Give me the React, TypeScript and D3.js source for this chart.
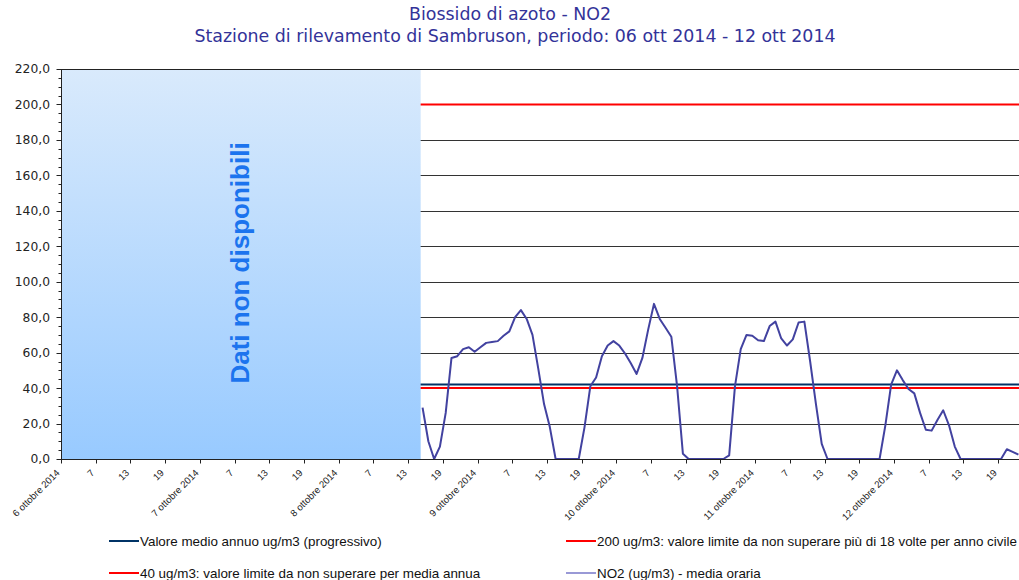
import React, { useEffect, useRef } from 'react';
import * as d3 from 'd3';

const titleLines = [
  'Biossido di azoto - NO2',
  'Stazione di rilevamento di Sambruson, periodo: 06 ott 2014 - 12 ott 2014',
];
const dayLabels = [
  '6 ottobre 2014',
  '7 ottobre 2014',
  '8 ottobre 2014',
  '9 ottobre 2014',
  '10 ottobre 2014',
  '11 ottobre 2014',
  '12 ottobre 2014',
];
const hourLabels = ['7', '13', '19'];
const hoursPerDay = 24;

// hourly NO2 (ug/m3), first value = 8 ott 15:00 (hour index 62)
const no2FirstHour = 62;
const no2Values = [
  29, 10, 0, 7, 26, 57, 58, 62, 63, 60.5, 63, 65.5, 66, 66.5, 69.5, 72, 80, 84, 79, 70, 51, 31, 18,
  0, 0, 0, 0, 0, 18, 41, 46, 58, 64, 66.5, 64, 59.5, 54, 48, 57, 73, 87.5, 79, 74, 69, 41, 3,
  0, 0, 0, 0, 0, 0, 0, 2, 41, 62, 70, 69.5, 67, 66.5, 75, 77.5, 68, 64, 67.5, 77, 77.5, 55, 31, 8.5,
  0, 0, 0, 0, 0, 0, 0, 0, 0, 0, 19, 42, 50, 44.5, 39.5, 37, 26, 16.5, 16, 22, 27.5, 19, 7,
  0, 0, 0, 0, 0, 0, 0, 0, 5.5, 4, 2.5,
];

const meanAnnual = 42;
const limitHourly = 200;
const limitAnnual = 40;
const yMax = 220;
const yMajor = d3.range(0, yMax + 1, 20);
const yMinor = d3.range(0, yMax + 1, 5);

const legendLabels = [
  'Valore medio annuo ug/m3 (progressivo)',
  '200 ug/m3: valore limite da non superare più di 18 volte per anno civile',
  '40 ug/m3: valore limite da non superare per media annua',
  'NO2 (ug/m3)  - media oraria',
];
const legendColors = ['#003366', '#ff0000', '#ff0000', '#9999d6'];

const noDataText = 'Dati non disponibili';

const itFormat = d3.formatLocale({ decimal: ',', thousands: '.', grouping: [3], currency: ['€', ''] }).format('.1f');

export default function App() {
  const ref = useRef<SVGSVGElement>(null);

  useEffect(() => {
    const width = 1019;
    const height = 580;
    const left = 61;
    const top = 69;
    const bottom = 459;
    const step = 5.785;
    const nHours = dayLabels.length * hoursPerDay;

    const svg = d3.select(ref.current);
    svg.selectAll('*').remove();
    svg.attr('width', width).attr('height', height);

    const x = d3.scaleLinear().domain([0, nHours]).range([left, left + nHours * step]);
    const y = d3.scaleLinear().domain([0, yMax]).range([bottom, top]);
    const crisp = (v: number) => Math.round(v) + 0.5;

    const defs = svg.append('defs');
    const grad = defs
      .append('linearGradient')
      .attr('id', 'nd')
      .attr('x1', 0)
      .attr('y1', 0)
      .attr('x2', 0)
      .attr('y2', 1);
    grad.append('stop').attr('offset', '0%').attr('stop-color', '#d9eafc');
    grad.append('stop').attr('offset', '100%').attr('stop-color', '#98caff');

    svg.append('rect').attr('width', width).attr('height', height).attr('fill', '#fff');

    // title
    svg
      .append('g')
      .selectAll('text')
      .data(titleLines)
      .enter()
      .append('text')
      .attr('x', (d, i) => (i === 0 ? 510 : 515))
      .attr('y', (d, i) => 20 + i * 22)
      .attr('text-anchor', 'middle')
      .style('font-family', 'DejaVu Sans, Verdana, sans-serif')
      .style('font-size', '17.4px')
      .style('fill', '#333399')
      .text((d) => d);

    // grid
    svg
      .append('g')
      .selectAll('line')
      .data(yMajor.filter((v) => v > 0))
      .enter()
      .append('line')
      .attr('x1', x(0))
      .attr('x2', x(nHours))
      .attr('y1', (d) => crisp(y(d)))
      .attr('y2', (d) => crisp(y(d)))
      .style('stroke', '#333')
      .style('stroke-width', 1);

    // reference lines
    const refs = [
      { v: limitHourly, c: '#ff0000' },
      { v: meanAnnual, c: '#003366' },
      { v: limitAnnual, c: '#ff0000' },
    ];
    svg
      .append('g')
      .selectAll('line')
      .data(refs)
      .enter()
      .append('line')
      .attr('x1', x(0))
      .attr('x2', x(nHours))
      .attr('y1', (d) => y(d.v))
      .attr('y2', (d) => y(d.v))
      .style('stroke', (d) => d.c)
      .style('stroke-width', 2);

    // NO2 hourly line
    const line = d3
      .line<number>()
      .x((d, i) => x(no2FirstHour + i + 0.5))
      .y((d) => y(d));
    svg
      .append('path')
      .datum(no2Values)
      .attr('d', line)
      .style('fill', 'none')
      .style('stroke', '#4242a0')
      .style('stroke-width', 2)
      .style('stroke-linejoin', 'round');

    // no data area
    svg
      .append('rect')
      .attr('x', x(0))
      .attr('y', y(yMax))
      .attr('width', x(no2FirstHour) - x(0) + 1)
      .attr('height', y(0) - y(yMax))
      .attr('fill', 'url(#nd)');
    svg
      .append('text')
      .attr('transform', `translate(${(x(0) + x(no2FirstHour)) / 2},${(y(0) + y(yMax)) / 2 - 1}) rotate(-90)`)
      .attr('text-anchor', 'middle')
      .attr('dy', '0.35em')
      .style('font-family', 'Liberation Sans, Arial, sans-serif')
      .style('font-weight', 'bold')
      .style('font-size', '26px')
      .style('fill', '#1c74ee')
      .text(noDataText);

    // top border
    svg
      .append('line')
      .attr('x1', x(0))
      .attr('x2', x(nHours))
      .attr('y1', crisp(y(yMax)))
      .attr('y2', crisp(y(yMax)))
      .style('stroke', '#222');

    // y axis
    const ya = svg.append('g');
    ya.append('line')
      .attr('x1', crisp(x(0)))
      .attr('x2', crisp(x(0)))
      .attr('y1', y(yMax))
      .attr('y2', y(0))
      .style('stroke', '#222');
    ya.selectAll('.minor')
      .data(yMinor)
      .enter()
      .append('line')
      .attr('x1', (d) => crisp(x(0)) - (d % 20 === 0 ? 5 : 3))
      .attr('x2', crisp(x(0)))
      .attr('y1', (d) => crisp(y(d)))
      .attr('y2', (d) => crisp(y(d)))
      .style('stroke', '#222');
    ya.selectAll('text')
      .data(yMajor)
      .enter()
      .append('text')
      .attr('x', 50)
      .attr('y', (d) => y(d))
      .attr('dy', '0.36em')
      .attr('text-anchor', 'end')
      .style('font-family', 'DejaVu Sans, Verdana, sans-serif')
      .style('font-size', '12.3px')
      .style('fill', '#222')
      .text((d) => itFormat(d));

    // x axis
    const xTicks = d3.range(0, nHours + 1, 6);
    const xa = svg.append('g');
    xa.append('line')
      .attr('x1', x(0))
      .attr('x2', x(nHours))
      .attr('y1', crisp(y(0)))
      .attr('y2', crisp(y(0)))
      .style('stroke', '#222');
    xa.selectAll('line.t')
      .data(xTicks)
      .enter()
      .append('line')
      .attr('x1', (d) => crisp(x(d)))
      .attr('x2', (d) => crisp(x(d)))
      .attr('y1', crisp(y(0)))
      .attr('y2', crisp(y(0)) + 4)
      .style('stroke', '#222');
    xa.selectAll('text')
      .data(xTicks.filter((d) => d < nHours))
      .enter()
      .append('text')
      .attr('transform', (d) => `translate(${x(d) - 3},${y(0) + 12}) rotate(-45)`)
      .attr('text-anchor', 'end')
      .attr('dy', '0.35em')
      .style('font-family', 'Liberation Sans, Arial, sans-serif')
      .style('font-size', '9.6px')
      .style('fill', '#222')
      .text((d) =>
        d % hoursPerDay === 0 ? dayLabels[d / hoursPerDay] : hourLabels[(d % hoursPerDay) / 6 - 1]
      );

    // legend
    const lg = svg
      .append('g')
      .selectAll('g')
      .data(legendLabels)
      .enter()
      .append('g')
      .attr('transform', (d, i) => `translate(${i % 2 === 0 ? 109 : 566},${i < 2 ? 541 : 573})`);
    lg.append('line')
      .attr('x1', 0)
      .attr('x2', 30)
      .attr('y1', 0)
      .attr('y2', 0)
      .style('stroke', (d, i) => legendColors[i])
      .style('stroke-width', 2);
    lg.append('text')
      .attr('x', 31)
      .attr('dy', '0.35em')
      .style('font-family', 'Liberation Sans, Arial, sans-serif')
      .style('font-size', '13.4px')
      .style('fill', '#111')
      .text((d) => d);
  }, []);

  return (
    <svg ref={ref} style={{ position: 'absolute', left: 0, top: 0, display: 'block' }} />
  );
}
